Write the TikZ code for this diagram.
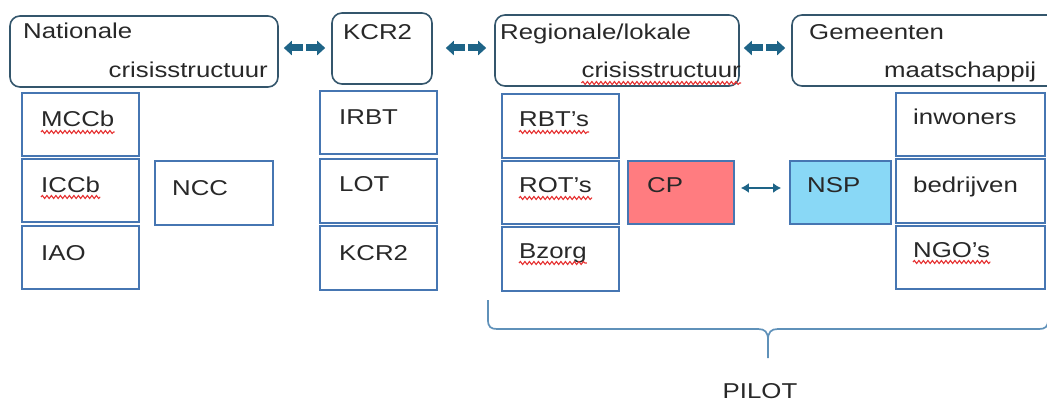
\documentclass[tikz,border=0pt]{standalone}
\usepackage{fontspec}
\setmainfont[FakeStretch=1.2]{Liberation Sans}
\usetikzlibrary{fit,arrows.meta,decorations.pathmorphing,calc}

\definecolor{framedark}{RGB}{52,86,108}
\definecolor{cellblue}{RGB}{70,118,178}
\definecolor{arrowteal}{RGB}{30,100,135}
\definecolor{cpred}{RGB}{255,124,128}
\definecolor{nspblue}{RGB}{137,216,246}
\definecolor{bracecol}{RGB}{95,145,185}
\definecolor{txt}{RGB}{40,40,40}
\definecolor{squigred}{RGB}{230,50,50}

% pair of fat arrows pointing away from a small gap in the middle
\newcommand\fatpair[3]{%
  \path (#1) -- (#2) coordinate[pos=0.5] (#3);
  \draw[fatarrow] ([xshift=-1.5pt]#3) -- (#1);
  \draw[fatarrow] ([xshift=1.5pt]#3) -- (#2);}

\begin{document}
\begin{tikzpicture}[x=1pt,y=-1pt,
  group/.style={draw=framedark, line width=1.6pt, rounded corners=10pt, inner sep=0pt},
  cell/.style={draw=cellblue, line width=1.8pt, inner sep=0pt},
  lbl/.style={inner sep=0pt, text=txt, font=\fontsize{21.5}{25}\selectfont},
  fatarrow/.style={draw=arrowteal, line width=7pt, -{Triangle[width=14pt,length=8pt]}},
  twoway/.style={draw=arrowteal, line width=2pt, {Latex[length=8pt,width=10pt]}-{Latex[length=8pt,width=10pt]}},
  squig/.style={draw=squigred, line width=1.1pt, decorate, decoration={snake, segment length=4.5pt, amplitude=1.5pt}},
  bracket/.style={draw=bracecol, line width=1.7pt}]

\path[use as bounding box, clip] (0,0) rectangle (1047,401);

% ---- top level groups ----
\node[group, fit={(10,16) (278,87)}] (nat) {};
\node[group, fit={(332,13) (432,84)}] (kcr) {};
\node[group, fit={(495,15) (739,86)}] (reg) {};
\node[group, fit={(792,15) (1070,86)}] (gem) {};

\node[lbl, anchor=base west] (tNat1) at (23,39) {Nationale};
\node[lbl, anchor=base east] (tNat2) at (268,78) {crisisstructuur};
\node[lbl, anchor=base west] (tKcr) at (343,40) {KCR2};
\node[lbl, anchor=base west] (tReg1) at (500,40) {Regionale/lokale};
\node[lbl, anchor=base east] (tReg2) at (741,78) {crisisstructuur};
\node[lbl, anchor=base west] (tGem1) at (809,40) {Gemeenten};
\node[lbl, anchor=base west] (tGem2) at (884,78) {maatschappij};

% ---- arrows between the groups ----
\coordinate (ay) at (0,48);
\fatpair{[xshift=5pt]nat.east |- ay}{[xshift=-6pt]kcr.west |- ay}{m1}
\fatpair{[xshift=13pt]kcr.east |- ay}{[xshift=-8pt]reg.west |- ay}{m2}
\fatpair{[xshift=4pt]reg.east |- ay}{[xshift=-6pt]gem.west |- ay}{m3}

% ---- national column ----
\node[cell, fit={(22,93) (139,156)}] (mccb) {};
\node[cell, fit={(22,159) (139,222)}] (iccb) {};
\node[cell, fit={(22,226) (139,289)}] (iao) {};
\node[cell, fit={(155,161) (273,225)}] (ncc) {};
\node[lbl, anchor=base west] (tMccb) at (41,127) {MCCb};
\node[lbl, anchor=base west] (tIccb) at (41,192) {ICCb};
\node[lbl, anchor=base west] (tIao) at (41,260) {IAO};
\node[lbl, anchor=base west] (tNcc) at (172,195) {NCC};

% ---- KCR2 column ----
\node[cell, fit={(320,91) (437,154)}] (irbt) {};
\node[cell, fit={(320,159) (437,223)}] (lot) {};
\node[cell, fit={(320,226) (437,290)}] (kcrb) {};
\node[lbl, anchor=base west] (tIrbt) at (339,125) {IRBT};
\node[lbl, anchor=base west] (tLot) at (339,191) {LOT};
\node[lbl, anchor=base west] (tKcrb) at (339,260) {KCR2};

% ---- regional column ----
\node[cell, fit={(502,94) (619,158)}] (rbt) {};
\node[cell, fit={(502,161) (619,224)}] (rot) {};
\node[cell, fit={(502,227) (619,291)}] (bzorg) {};
\node[lbl, anchor=base west] (tRbt) at (519,127) {RBT’s};
\node[lbl, anchor=base west] (tRot) at (519,193) {ROT’s};
\node[lbl, anchor=base west] (tBzorg) at (519,258) {Bzorg};

% ---- CP and NSP ----
\node[cell, fill=cpred, fit={(628,161) (734,224)}] (cp) {};
\node[cell, fill=nspblue, fit={(790,161) (891,224)}] (nsp) {};
\node[lbl, anchor=base west] (tCp) at (647,193) {CP};
\node[lbl, anchor=base west] (tNsp) at (807,193) {NSP};
\coordinate (ty) at (0,188);
\draw[twoway] ([xshift=6pt]cp.east |- ty) -- ([xshift=-8pt]nsp.west |- ty);

% ---- society column ----
\node[cell, fit={(896,93) (1045,156)}] (inw) {};
\node[cell, fit={(896,159) (1045,223)}] (bedr) {};
\node[cell, fit={(896,226) (1045,289)}] (ngo) {};
\node[lbl, anchor=base west] (tInw) at (913,125) {inwoners};
\node[lbl, anchor=base west] (tBedr) at (913,192) {bedrijven};
\node[lbl, anchor=base west] (tNgo) at (913,257) {NGO’s};

% ---- spell-check underlines ----
\foreach \t in {tMccb,tIccb,tRbt,tRot,tBzorg,tNgo,tReg2}
  \draw[squig] ([yshift=-5pt]\t.base west) -- ([yshift=-5pt]\t.base east);

% ---- pilot bracket ----
\draw[bracket] (488,300) -- (488,320) .. controls (488,327) and (491,329) .. (497,329)
  -- (758,329) .. controls (765,329) and (768,332) .. (768,340) -- (768,358);
\draw[bracket] (768,340) .. controls (768,332) and (771,329) .. (778,329)
  -- (1039,329) .. controls (1045,329) and (1048,327) .. (1048,320) -- (1048,300);
\node[lbl, anchor=base] (tPilot) at (760,398) {PILOT};

\end{tikzpicture}
\end{document}
